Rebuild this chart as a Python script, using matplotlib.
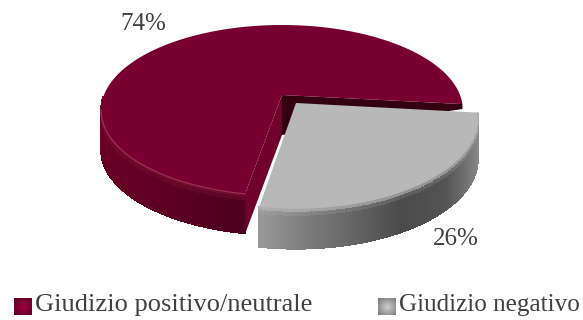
import numpy as np
import matplotlib
matplotlib.use("Agg")
import matplotlib.pyplot as plt
from matplotlib.collections import PolyCollection
from matplotlib.colors import to_rgb
from matplotlib.patches import Polygon

categories = ["Giudizio positivo/neutrale", "Giudizio negativo"]
values = [74, 26]
value_labels = ["74%", "26%"]

WIDTH, HEIGHT = 583, 320
START_ANGLE = -6.2   # where the grey slice starts, going clockwise
TILT = 0.177         # perspective strength of the disc
DEPTH = 40


def project(theta, center, rx, ry):
    # point on a tilted disc, theta in degrees, perspective makes the near side bigger
    t = np.radians(theta)
    u, v = np.cos(t), np.sin(t)
    w = 1 + TILT * v
    return np.column_stack([center[0] + rx * u / w, center[1] - ry * v / w])


def blend(a, b, f):
    return tuple(np.array(to_rgb(a)) * (1 - f) + np.array(to_rgb(b)) * f)


def side_wall(ax, pts, color_at, zorder, rows=10):
    # extruded outer wall, small quads so the shading can vary along and down it
    quads, colors = [], []
    for i in range(len(pts) - 1):
        for r in range(rows):
            d0, d1 = DEPTH * r / rows, DEPTH * (r + 1) / rows
            p, q = pts[i], pts[i + 1]
            quads.append([(p[0], p[1] + d0), (q[0], q[1] + d0), (q[0], q[1] + d1), (p[0], p[1] + d1)])
            colors.append(color_at((p[0] + q[0]) / 2, (r + 0.5) / rows))
    ax.add_collection(PolyCollection(quads, facecolors=colors, edgecolors=colors, linewidths=0.6,
                                     antialiased=False, zorder=zorder))


def maroon_color(x, down):
    base = blend("#6a0026", "#520020", min(1, max(0, (x - 100) / 120)))
    if down < 0.25:
        return blend(base, "#78102f", 1 - down / 0.25)
    return base


def grey_color(x, down):
    xs = [258, 300, 350, 400, 445, 470, 482]
    rs = [0.60, 0.50, 0.40, 0.29, 0.33, 0.47, 0.58]
    g = np.interp(x, xs, rs)
    if down < 0.22:
        g = g + (0.72 - g) * (1 - down / 0.22) ** 1.5
    return (g, g, g)


fig = plt.figure(figsize=(WIDTH / 100, HEIGHT / 100), dpi=100)
ax = fig.add_axes([0, 0, 1, 1])
ax.set_xlim(0, WIDTH)
ax.set_ylim(HEIGHT, 0)
ax.axis("off")

spans = [v / sum(values) * 360 for v in values]
grey_start = START_ANGLE
grey_end = grey_start - spans[1]

# maroon slice
m_center = (282, 95)
m_rx, m_ry = 178, 82.4
m_theta = np.linspace(grey_start, grey_start + spans[0], 240)
m_arc = project(m_theta, m_center, m_rx, m_ry)
front = m_theta[m_theta >= 180]
side_wall(ax, project(front, m_center, m_rx, m_ry), maroon_color, 1)

# the two cut faces of the maroon slice
m_far, m_near = m_arc[0], m_arc[-1]
ax.add_patch(Polygon([m_center, m_near, (m_near[0], m_near[1] + DEPTH), (m_center[0], m_center[1] + DEPTH)],
                     fc="#6e0029", ec="none", zorder=2))
ax.add_patch(Polygon([m_center, m_far, (m_far[0], m_far[1] + 5), (m_center[0], m_center[1] + DEPTH)],
                     fc="#33000f", ec="none", zorder=3))
ax.add_patch(Polygon(np.vstack([[m_center], m_arc]), fc="#780030", ec="none", zorder=3))

# light rim along the near edge
rim = project(np.linspace(190, grey_start + spans[0], 80), m_center, m_rx, m_ry)
ax.plot(rim[:, 0], rim[:, 1] + 0.5, color="#a23a60", lw=0.9, alpha=0.8, zorder=4)

# grey slice, pulled out of the disc
g_center = (296, 103)
g_rx, g_ry = 179, 87
g_theta = np.linspace(grey_start, grey_end, 100)
g_arc = project(g_theta, g_center, g_rx, g_ry)
side_wall(ax, g_arc, grey_color, 5)
ax.add_patch(Polygon(np.vstack([[g_center], g_arc]), fc="#b8b8b8", ec="none", zorder=6))

label_color = "#404040"
ax.text(143, 24, value_labels[0], ha="center", va="center", family="Liberation Serif",
        fontsize=18, color=label_color, zorder=7)
ax.text(456, 239, value_labels[1], ha="center", va="center", family="Liberation Serif",
        fontsize=18, color=label_color, zorder=7)

# legend
legend_x = [14, 378]
legend_size = [19, 18.1]
legend_fill = [("#a00040", "#5a0020"), ("#d0d0d0", "#777777")]
for x, name, size, (light, dark) in zip(legend_x, categories, legend_size, legend_fill):
    n = 18
    img = np.zeros((n, n, 3))
    for i in range(n):
        for j in range(n):
            d = np.hypot(i - n / 2, j - n / 2) / (n * 0.7)
            img[i, j] = blend(light, dark, min(1, d))
    ax.imshow(img, extent=(x, x + n, 315, 298), interpolation="bilinear", aspect="auto", zorder=7)
    ax.text(x + 21, 305, name, ha="left", va="center", family="Liberation Serif",
            fontsize=size, color=label_color, zorder=7)
ax.set_xlim(0, WIDTH)
ax.set_ylim(HEIGHT, 0)

fig.savefig("out.png", dpi=100, facecolor="white")
